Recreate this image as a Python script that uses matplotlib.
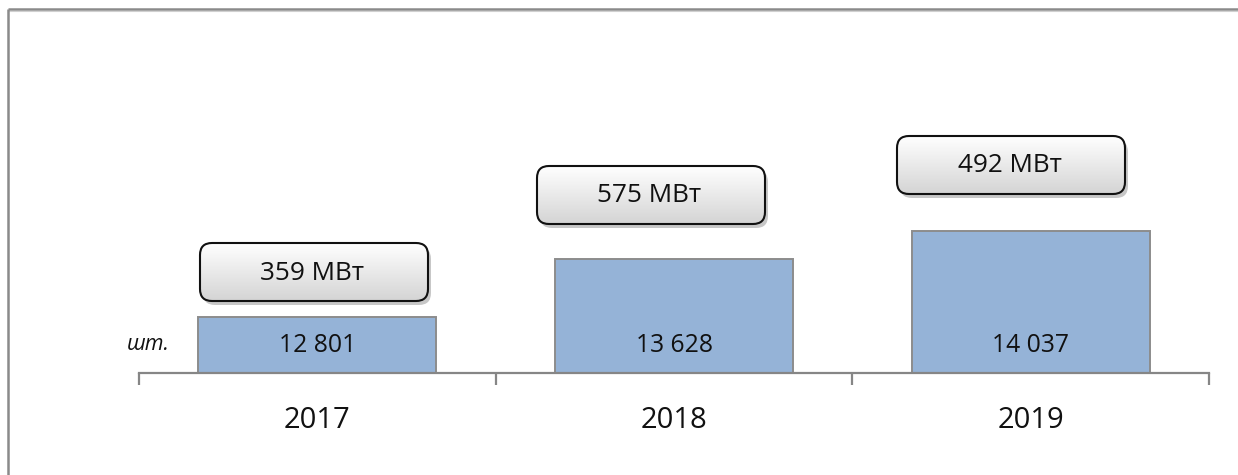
import matplotlib
matplotlib.use("Agg")
import matplotlib.pyplot as plt
import numpy as np
from matplotlib.patches import FancyBboxPatch
from matplotlib.colors import LinearSegmentedColormap

# ---- data ----
years = ["2017", "2018", "2019"]
counts = [12801, 13628, 14037]
power_labels = ["359 МВт", "575 МВт", "492 МВт"]
unit_label = "шт."
y_min, y_max = 12000, 17000

plt.rcParams['font.family'] = ['Open Sans', 'DejaVu Sans']

W, H = 1238, 475
fig = plt.figure(figsize=(W / 100, H / 100), dpi=100)
fig.patch.set_facecolor('white')

ax_l, ax_r, ax_b, ax_t = 139, 1209, 373, 24
ax = fig.add_axes([ax_l / W, 1 - ax_b / H, (ax_r - ax_l) / W, (ax_b - ax_t) / H])
x = np.arange(len(years))
ax.bar(x, counts, width=0.667, bottom=0, color='#95b3d7', edgecolor='#8c8c8c', linewidth=1.4, zorder=2)
ax.set_xlim(-0.5, len(years) - 0.5)
ax.set_ylim(y_min, y_max)
for s in ['top', 'right', 'left']:
    ax.spines[s].set_visible(False)
ax.spines['bottom'].set_color('#868686')
ax.spines['bottom'].set_linewidth(1.6)
ax.spines['bottom'].set_zorder(3)
ax.set_yticks([])
ax.set_xticks(x)
ax.set_xticklabels(years, fontsize=21, color='#111111')
ax.tick_params(axis='x', which='major', length=0, pad=24)
ax.set_xticks(np.arange(len(years) + 1) - 0.5, minor=True)
ax.tick_params(axis='x', which='minor', length=8.5, width=1.6, color='#868686', direction='out')

for xi, c in zip(x, counts):
    ax.annotate(f"{c:,}".replace(",", " "), xy=(xi, y_min), xytext=(0, 27),
                textcoords='offset pixels', ha='center', va='center', fontsize=17.8, color='#111111', zorder=4)

ax.text(0.029, (ax_b - 345) / (ax_b - ax_t), unit_label, transform=ax.transAxes,
        ha='right', va='center', fontsize=15.5, style='italic', color='#111111')

# overlay in pixel coordinates for frame and callouts
ov = fig.add_axes([0, 0, 1, 1], zorder=5)
ov.set_xlim(0, W)
ov.set_ylim(H, 0)
ov.axis('off')
ov.patch.set_alpha(0)

# figure frame (top and left)
ov.plot([8, W], [9, 9], color='#8a8a8a', lw=1.8, solid_capstyle='butt')
ov.plot([8, W], [11, 11], color='#d0d0d0', lw=0.8)
ov.plot([8, 8], [9, H], color='#8a8a8a', lw=1.8, solid_capstyle='butt')

boxes = [(200, 243, 228, 58), (537, 166, 228, 58), (897, 136, 228, 58)]
grad = np.linspace(0, 1, 100).reshape(-1, 1)
cmap = LinearSegmentedColormap.from_list('g', ['#ffffff', '#d4d4d4'])
for (bx, by, bw, bh), lab in zip(boxes, power_labels):
    shadow = FancyBboxPatch((bx + 3, by + 4), bw, bh, boxstyle="round,pad=0,rounding_size=12",
                            facecolor='#9a9a9a', edgecolor='none', alpha=0.55, zorder=1)
    ov.add_patch(shadow)
    p = FancyBboxPatch((bx, by), bw, bh, boxstyle="round,pad=0,rounding_size=12",
                       facecolor='none', edgecolor='#111111', linewidth=1.5, zorder=3)
    ov.add_patch(p)
    im = ov.imshow(grad, extent=[bx, bx + bw, by + bh, by], cmap=cmap, aspect='auto', zorder=2,
                   interpolation='bicubic')
    clip = FancyBboxPatch((bx, by), bw, bh, boxstyle="round,pad=0,rounding_size=12",
                          facecolor='none', edgecolor='none', transform=ov.transData)
    im.set_clip_path(clip)
    ov.text(bx + bw / 2 - 1.5, by + bh / 2 + 1, lab, ha='center', va='center', fontsize=18.8,
            color='#111111', zorder=4)

ov.set_xlim(0, W)
ov.set_ylim(H, 0)

fig.savefig('out.png', dpi=100)
